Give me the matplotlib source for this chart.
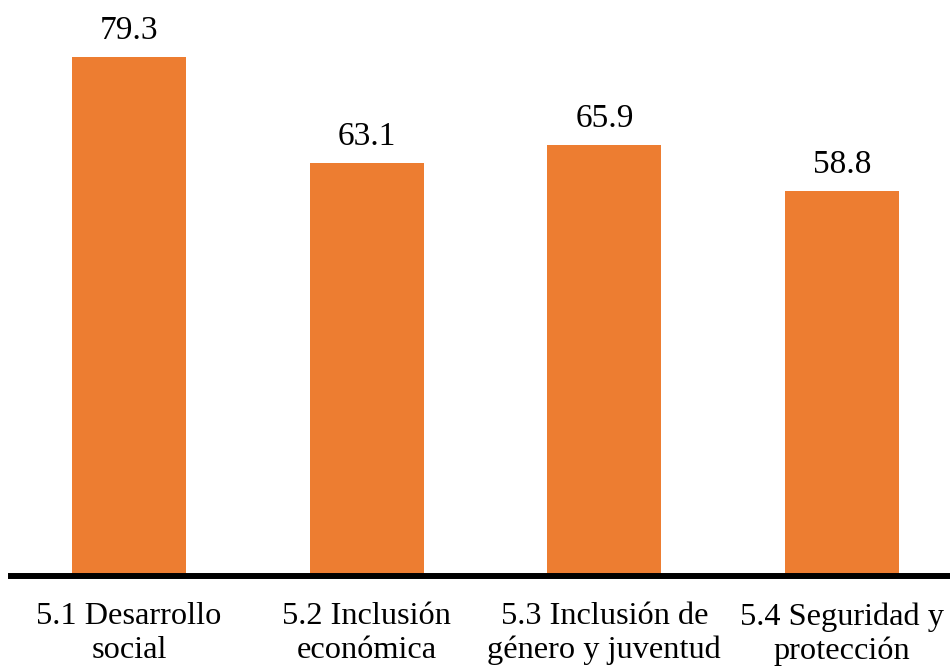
import matplotlib.pyplot as plt

plt.rcParams["font.family"] = ["Liberation Serif", "DejaVu Serif"]

categories = ["5.1 Desarrollo\nsocial", "5.2 Inclusión\neconómica",
              "5.3 Inclusión de\ngénero y juventud", "5.4 Seguridad y\nprotección"]
values = [79.3, 63.1, 65.9, 58.8]

fig = plt.figure(figsize=(9.5, 6.67), dpi=100)
ax = fig.add_axes([11 / 950, 91 / 667, 1 - 11 / 950, 576 / 667])

x = range(len(categories))
bars = ax.bar(x, values, width=0.48, color="#ED7D31")

for b, v in zip(bars, values):
    ax.annotate(f"{v:.1f}", xy=(b.get_x() + b.get_width() / 2, v),
                xytext=(0, 8), textcoords="offset points",
                ha="center", va="bottom", fontsize=24)

ax.set_xlim(-0.496, 3.454)
ax.set_ylim(0, 88)
ax.set_xticks(list(x))
ax.set_xticklabels(categories, fontsize=23.3, linespacing=1.2)
ax.tick_params(axis="x", length=0, pad=19)
ax.set_yticks([])

for side in ["top", "right", "left"]:
    ax.spines[side].set_visible(False)
ax.spines["bottom"].set_linewidth(4.3)
ax.spines["bottom"].set_color("black")

fig.savefig("out.png", dpi=100)
